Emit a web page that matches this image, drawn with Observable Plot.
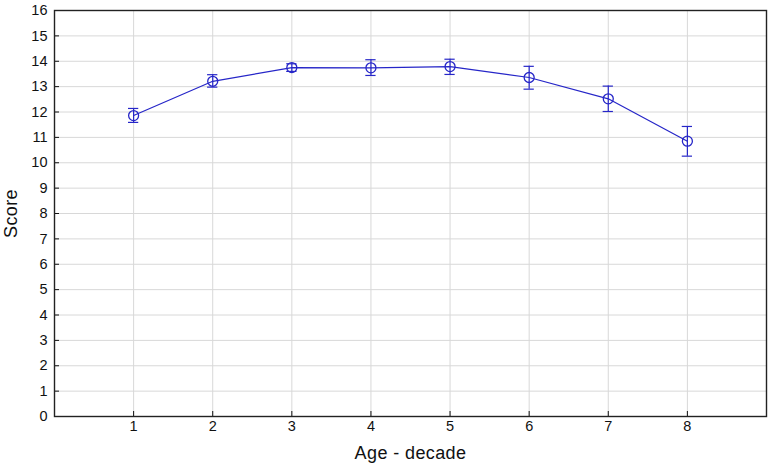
<!DOCTYPE html>
<html><head><meta charset="utf-8">
<script src="https://cdn.jsdelivr.net/npm/d3@7"></script>
<script src="https://cdn.jsdelivr.net/npm/@observablehq/plot@0.6"></script>
<style>
body{margin:0;background:#fff;}
svg{font-family:"Liberation Sans",Arial,Helvetica,sans-serif;}
svg g[aria-label$="tick label"] text{font-size:14.5px !important;}
svg g[aria-label="x-axis label"] text, svg g[aria-label="y-axis label"] text{font-size:18px !important; letter-spacing:0.4px;}
</style>
</head><body>
<div id="chart"></div>
<script>
const decades = [1, 2, 3, 4, 5, 6, 7, 8];
const means   = [11.86, 13.21, 13.75, 13.74, 13.79, 13.36, 12.52, 10.85];
const upper   = [12.14, 13.47, 13.90, 14.06, 14.08, 13.80, 13.02, 11.43];
const lower   = [11.59, 12.98, 13.60, 13.44, 13.48, 12.90, 12.02, 10.26];
const yTicks  = d3.range(0, 17);
const xTicks  = decades;

const data = decades.map((x, i) => ({x, mean: means[i], hi: upper[i], lo: lower[i]}));
const blue = "#2626c8";
const capHalf = 0.065;

const chart = Plot.plot({
  width: 769,
  height: 463,
  marginLeft: 54,
  marginRight: 3,
  marginTop: 10,
  marginBottom: 47,
  style: {fontFamily: "Liberation Sans, Arial, sans-serif", color: "#111"},
  x: {domain: [0, 9]},
  y: {domain: [0, 16]},
  marks: [
    Plot.gridX(xTicks, {stroke: "#d8d8d8", strokeOpacity: 1}),
    Plot.gridY(yTicks, {stroke: "#d8d8d8", strokeOpacity: 1}),
    Plot.axisX({ticks: xTicks, tickSize: -5, tickPadding: 9, fontSize: 14.5, label: "Age - decade", labelAnchor: "center", labelArrow: "none", labelOffset: 42, tickFormat: d3.format("d")}),
    Plot.axisY({ticks: yTicks, tickSize: -5, tickPadding: 12, fontSize: 14.5, label: "Score", labelAnchor: "center", labelArrow: "none", labelOffset: 50, tickFormat: d3.format("d")}),
    Plot.frame({stroke: "#222", strokeWidth: 1.4}),
    Plot.line(data, {x: "x", y: "mean", stroke: blue, strokeWidth: 1.2}),
    Plot.ruleX(data, {x: "x", y1: "lo", y2: "hi", stroke: blue, strokeWidth: 1.2}),
    Plot.ruleY(data, {y: "hi", x1: d => d.x - capHalf, x2: d => d.x + capHalf, stroke: blue, strokeWidth: 1.2}),
    Plot.ruleY(data, {y: "lo", x1: d => d.x - capHalf, x2: d => d.x + capHalf, stroke: blue, strokeWidth: 1.2}),
    Plot.dot(data, {x: "x", y: "mean", r: 5, stroke: blue, strokeWidth: 1.3, fill: "none"})
  ]
});
document.getElementById("chart").appendChild(chart);
</script>
</body></html>
